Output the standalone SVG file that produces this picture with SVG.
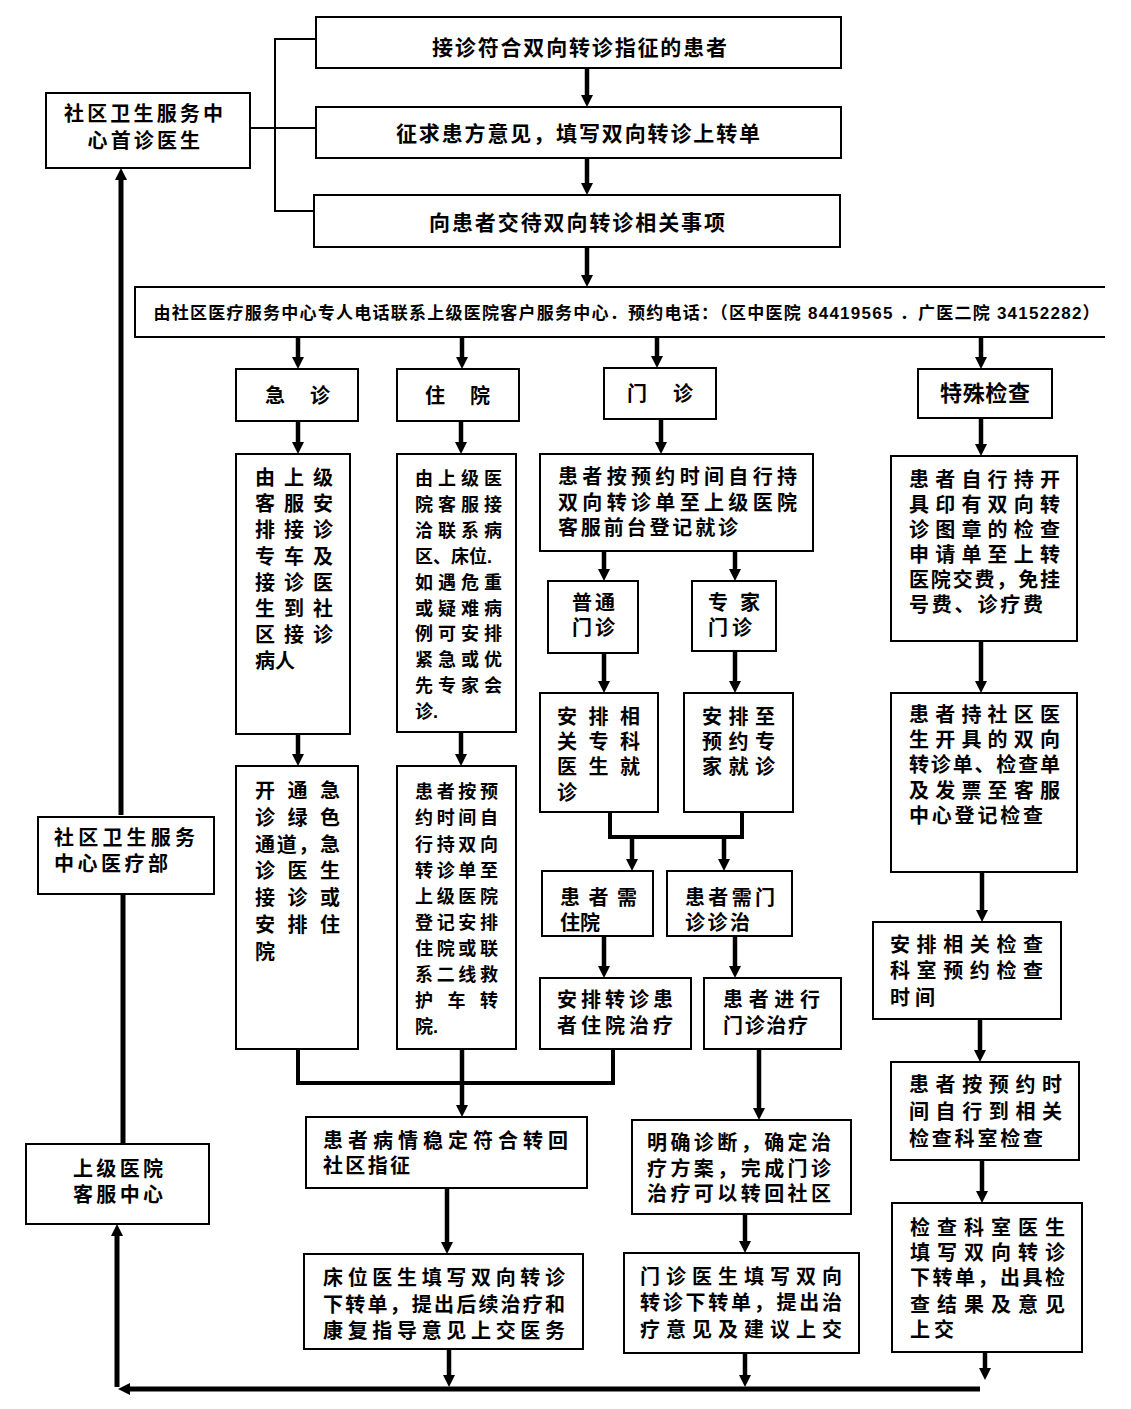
<svg xmlns="http://www.w3.org/2000/svg" width="1131" height="1409" viewBox="0 0 1131 1409">
<defs>
<marker id="ah" viewBox="0 0 12 12" markerWidth="12" markerHeight="12" refX="1" refY="6" orient="auto" markerUnits="userSpaceOnUse">
<path d="M0,0 L12,6 L0,12 z" fill="#000"/>
</marker>
<style>
.box{fill:#fff;stroke:#000;stroke-width:2}
.t{font-family:"Liberation Sans","Noto Sans CJK SC",sans-serif;font-weight:bold;fill:#000;font-size:20px}
.s18{font-size:18px}
.s21{font-size:21px}
.s17{font-size:17px}
.s22{font-size:22px}
.thin{fill:none;stroke:#000;stroke-width:2}
.arr{fill:none;stroke:#000;stroke-width:4.5;marker-end:url(#ah)}
.ln{fill:none;stroke:#000;stroke-width:4}
.arr5{fill:none;stroke:#000;stroke-width:5;marker-end:url(#ah)}
.ln5{fill:none;stroke:#000;stroke-width:5}
</style>
</defs>
<rect width="1131" height="1409" fill="#fff"/>

<g id="connectors">
<path class="thin" d="M316,39 H275 V211 H314 M250,128 H316"/>
<path class="arr" d="M587,68 V96"/>
<path class="arr" d="M587,158 V184"/>
<path class="arr" d="M587,247 V276"/>
<path class="arr" d="M298,337 V358"/>
<path class="arr" d="M462,337 V358"/>
<path class="arr" d="M657,337 V357"/>
<path class="arr" d="M981,337 V358"/>
<path class="arr" d="M298,421 V443"/>
<path class="arr" d="M461,421 V443"/>
<path class="arr" d="M661,419 V443"/>
<path class="arr" d="M981,418 V445"/>
<path class="arr" d="M298,734 V755"/>
<path class="arr" d="M461,732 V755"/>
<path class="arr" d="M604,551 V570"/>
<path class="arr" d="M735,551 V570"/>
<path class="arr" d="M604,653 V682"/>
<path class="arr" d="M735,651 V682"/>
<path class="ln" d="M610,812 V837 H742 V812"/>
<path class="arr" d="M632,837 V860"/>
<path class="arr" d="M724,837 V860"/>
<path class="arr" d="M604,936 V967"/>
<path class="arr" d="M735,936 V967"/>
<path class="ln" d="M298,1049 V1083 H613 V1049"/>
<path class="arr" d="M462,1049 V1106"/>
<path class="arr" d="M759,1049 V1109"/>
<path class="arr" d="M447,1188 V1243"/>
<path class="arr" d="M745,1214 V1242"/>
<path class="arr" d="M449,1349 V1376"/>
<path class="arr" d="M745,1353 V1376"/>
<path class="arr" d="M985,1352 V1369"/>
<path class="arr" d="M981,641 V682"/>
<path class="arr" d="M982,872 V911"/>
<path class="arr" d="M980,1019 V1051"/>
<path class="arr" d="M982,1160 V1192"/>
<path class="arr5" d="M980,1389 H129"/>
<path class="arr5" d="M117,1387 V1235"/>
<path class="ln5" d="M123,894 V1144"/>
<path class="arr5" d="M121,815 V179"/>
</g>

<g id="n_first">
<rect class="box" x="46" y="93" width="204" height="75"/>
<text class="t" x="64" y="121" textLength="159">社区卫生服务中</text>
<text class="t" x="87.5" y="147.5" textLength="112.5">心首诊医生</text>
</g>
<g id="n1">
<rect class="box" x="316" y="17" width="525" height="51"/>
<text class="t s21" x="432" y="54.5" textLength="295">接诊符合双向转诊指征的患者</text>
</g>
<g id="n2">
<rect class="box" x="316" y="107" width="525" height="51"/>
<text class="t s21" x="396" y="141" textLength="364">征求患方意见，填写双向转诊上转单</text>
</g>
<g id="n3">
<rect class="box" x="314" y="195" width="526" height="52"/>
<text class="t s21" x="429" y="229.5" textLength="296">向患者交待双向转诊相关事项</text>
</g>
<g id="n_wide">
<path d="M1105,287 H135 V337 H1105" fill="#fff" stroke="#000" stroke-width="2"/>
<text class="t s17" x="153.6" y="319" textLength="946">由社区医疗服务中心专人电话联系上级医院客户服务中心．预约电话：（区中医院 84419565 ．广医二院 34152282）</text>
</g>

<g id="n_jz">
<rect class="box" x="236" y="369" width="122" height="52"/>
<text class="t" x="265" y="403" textLength="65">急诊</text>
</g>
<g id="n_zy">
<rect class="box" x="397" y="369" width="122" height="52"/>
<text class="t" x="425" y="403" textLength="65">住院</text>
</g>
<g id="n_mz">
<rect class="box" x="604" y="368" width="112" height="51"/>
<text class="t" x="627" y="401" textLength="66">门诊</text>
</g>
<g id="n_ts">
<rect class="box" x="918" y="369" width="134" height="49"/>
<text class="t s22" x="940" y="401" textLength="90">特殊检查</text>
</g>

<g id="n_jz2">
<rect class="box" x="236" y="454" width="114" height="280"/>
<text class="t" x="255" y="485" textLength="78">由上级</text>
<text class="t" x="255" y="511.2" textLength="78">客服安</text>
<text class="t" x="255" y="537.4" textLength="78">排接诊</text>
<text class="t" x="255" y="563.6" textLength="78">专车及</text>
<text class="t" x="255" y="589.8" textLength="78">接诊医</text>
<text class="t" x="255" y="616" textLength="78">生到社</text>
<text class="t" x="255" y="642.2" textLength="78">区接诊</text>
<text class="t" x="255" y="668.4">病人</text>
</g>
<g id="n_zy2">
<rect class="box" x="397" y="454" width="119" height="278"/>
<text class="t s18" x="415" y="485" textLength="87">由上级医</text>
<text class="t s18" x="415" y="510.9" textLength="87">院客服接</text>
<text class="t s18" x="415" y="536.8" textLength="87">洽联系病</text>
<text class="t s18" x="415" y="562.7">区、床位.</text>
<text class="t s18" x="415" y="588.6" textLength="87">如遇危重</text>
<text class="t s18" x="415" y="614.5" textLength="87">或疑难病</text>
<text class="t s18" x="415" y="640.4" textLength="87">例可安排</text>
<text class="t s18" x="415" y="666.3" textLength="87">紧急或优</text>
<text class="t s18" x="415" y="692.2" textLength="87">先专家会</text>
<text class="t s18" x="415" y="718.1">诊.</text>
</g>
<g id="n_mz2">
<rect class="box" x="540" y="454" width="273" height="97"/>
<text class="t" x="558" y="484" textLength="239">患者按预约时间自行持</text>
<text class="t" x="558" y="510" textLength="239">双向转诊单至上级医院</text>
<text class="t" x="558" y="535" textLength="180">客服前台登记就诊</text>
</g>
<g id="n_ts2">
<rect class="box" x="891" y="456" width="186" height="185"/>
<text class="t" x="909" y="486.6" textLength="151">患者自行持开</text>
<text class="t" x="909" y="511.6" textLength="151">具印有双向转</text>
<text class="t" x="909" y="536.6" textLength="151">诊图章的检查</text>
<text class="t" x="909" y="561.6" textLength="151">申请单至上转</text>
<text class="t" x="909" y="586.6" textLength="151">医院交费，免挂</text>
<text class="t" x="909" y="611.6" textLength="134">号费、诊疗费</text>
</g>
<g id="n_pt">
<rect class="box" x="548" y="581" width="90" height="72"/>
<text class="t" x="572" y="609.6" textLength="43">普通</text>
<text class="t" x="572" y="634.6" textLength="43">门诊</text>
</g>
<g id="n_zj">
<rect class="box" x="692" y="581" width="84" height="70"/>
<text class="t" x="708" y="609.6" textLength="52">专家</text>
<text class="t" x="708" y="634.6" textLength="44">门诊</text>
</g>
<g id="n_ap1">
<rect class="box" x="540" y="693" width="118" height="119"/>
<text class="t" x="557" y="723.6" textLength="83">安排相</text>
<text class="t" x="557" y="749" textLength="83">关专科</text>
<text class="t" x="557" y="774.4" textLength="83">医生就</text>
<text class="t" x="557" y="799.8">诊</text>
</g>
<g id="n_ap2">
<rect class="box" x="684" y="693" width="109" height="119"/>
<text class="t" x="702" y="723.6" textLength="73">安排至</text>
<text class="t" x="702" y="749" textLength="73">预约专</text>
<text class="t" x="702" y="774.4" textLength="73">家就诊</text>
</g>
<g id="n_ts3">
<rect class="box" x="891" y="693" width="186" height="179"/>
<text class="t" x="909" y="721.6" textLength="151">患者持社区医</text>
<text class="t" x="909" y="746.9" textLength="151">生开具的双向</text>
<text class="t" x="909" y="772.2" textLength="151">转诊单、检查单</text>
<text class="t" x="909" y="797.5" textLength="151">及发票至客服</text>
<text class="t" x="909" y="822.8" textLength="134">中心登记检查</text>
</g>
<g id="n_jz3">
<rect class="box" x="236" y="766" width="122" height="283"/>
<text class="t" x="255" y="798.3" textLength="85">开通急</text>
<text class="t" x="255" y="825" textLength="85">诊绿色</text>
<text class="t" x="255" y="851.7" textLength="85">通道，急</text>
<text class="t" x="255" y="878.4" textLength="85">诊医生</text>
<text class="t" x="255" y="905.1" textLength="85">接诊或</text>
<text class="t" x="255" y="931.8" textLength="85">安排住</text>
<text class="t" x="255" y="958.5">院</text>
</g>
<g id="n_zy3">
<rect class="box" x="397" y="766" width="119" height="283"/>
<text class="t s18" x="415" y="798.3" textLength="83">患者按预</text>
<text class="t s18" x="415" y="824.4" textLength="83">约时间自</text>
<text class="t s18" x="415" y="850.5" textLength="83">行持双向</text>
<text class="t s18" x="415" y="876.6" textLength="83">转诊单至</text>
<text class="t s18" x="415" y="902.7" textLength="83">上级医院</text>
<text class="t s18" x="415" y="928.8" textLength="83">登记安排</text>
<text class="t s18" x="415" y="954.9" textLength="83">住院或联</text>
<text class="t s18" x="415" y="981" textLength="83">系二线救</text>
<text class="t s18" x="415" y="1007.1" textLength="83">护车转</text>
<text class="t s18" x="415" y="1033.2">院.</text>
</g>
<g id="n_hz1">
<rect class="box" x="542" y="871" width="111" height="65"/>
<text class="t" x="560" y="904.6" textLength="77">患者需</text>
<text class="t" x="560" y="929.6">住院</text>
</g>
<g id="n_hz2">
<rect class="box" x="667" y="871" width="125" height="65"/>
<text class="t" x="685" y="904.6" textLength="90">患者需门</text>
<text class="t" x="685" y="929.6" textLength="65">诊诊治</text>
</g>
<g id="n_ts4">
<rect class="box" x="873" y="922" width="188" height="97"/>
<text class="t" x="890" y="951.6" textLength="153">安排相关检查</text>
<text class="t" x="890" y="978" textLength="153">科室预约检查</text>
<text class="t" x="890" y="1004.6" textLength="45">时间</text>
</g>
<g id="n_az">
<rect class="box" x="540" y="978" width="151" height="71"/>
<text class="t" x="557" y="1006.6" textLength="116">安排转诊患</text>
<text class="t" x="557" y="1033.3" textLength="116">者住院治疗</text>
</g>
<g id="n_jx">
<rect class="box" x="704" y="978" width="137" height="71"/>
<text class="t" x="723" y="1006.6" textLength="97">患者进行</text>
<text class="t" x="723" y="1033.3" textLength="85">门诊治疗</text>
</g>
<g id="n_ts5">
<rect class="box" x="891" y="1062" width="188" height="98"/>
<text class="t" x="909" y="1091.6" textLength="153">患者按预约时</text>
<text class="t" x="909" y="1118.6" textLength="153">间自行到相关</text>
<text class="t" x="909" y="1145.6" textLength="134">检查科室检查</text>
</g>
<g id="n_bq">
<rect class="box" x="306" y="1117" width="281" height="71"/>
<text class="t" x="323" y="1148" textLength="245">患者病情稳定符合转回</text>
<text class="t" x="323" y="1173" textLength="87">社区指征</text>
</g>
<g id="n_mq">
<rect class="box" x="632" y="1120" width="219" height="94"/>
<text class="t" x="647" y="1149.6" textLength="184">明确诊断，确定治</text>
<text class="t" x="647" y="1175.6" textLength="184">疗方案，完成门诊</text>
<text class="t" x="647" y="1200.6" textLength="184">治疗可以转回社区</text>
</g>
<g id="n_ts6">
<rect class="box" x="892" y="1203" width="190" height="149"/>
<text class="t" x="910" y="1235" textLength="155">检查科室医生</text>
<text class="t" x="910" y="1260" textLength="155">填写双向转诊</text>
<text class="t" x="910" y="1285" textLength="155">下转单，出具检</text>
<text class="t" x="910" y="1311.6" textLength="155">查结果及意见</text>
<text class="t" x="910" y="1336.6" textLength="44">上交</text>
</g>
<g id="n_cw">
<rect class="box" x="304" y="1254" width="279" height="95"/>
<text class="t" x="323" y="1285" textLength="242">床位医生填写双向转诊</text>
<text class="t" x="323" y="1311.6" textLength="242">下转单，提出后续治疗和</text>
<text class="t" x="323" y="1338.3" textLength="242">康复指导意见上交医务</text>
</g>
<g id="n_mzys">
<rect class="box" x="624" y="1253" width="235" height="100"/>
<text class="t" x="640" y="1283.6" textLength="202">门诊医生填写双向</text>
<text class="t" x="640" y="1309.6" textLength="202">转诊下转单，提出治</text>
<text class="t" x="640" y="1336.6" textLength="202">疗意见及建议上交</text>
</g>
<g id="n_ylb">
<rect class="box" x="38" y="817" width="176" height="77"/>
<text class="t" x="54" y="844.6" textLength="141">社区卫生服务</text>
<text class="t" x="54" y="870.6" textLength="114">中心医疗部</text>
</g>
<g id="n_sj">
<rect class="box" x="26" y="1144" width="183" height="80"/>
<text class="t" x="73" y="1175.6" textLength="90">上级医院</text>
<text class="t" x="73" y="1201.6" textLength="90">客服中心</text>
</g>
</svg>
